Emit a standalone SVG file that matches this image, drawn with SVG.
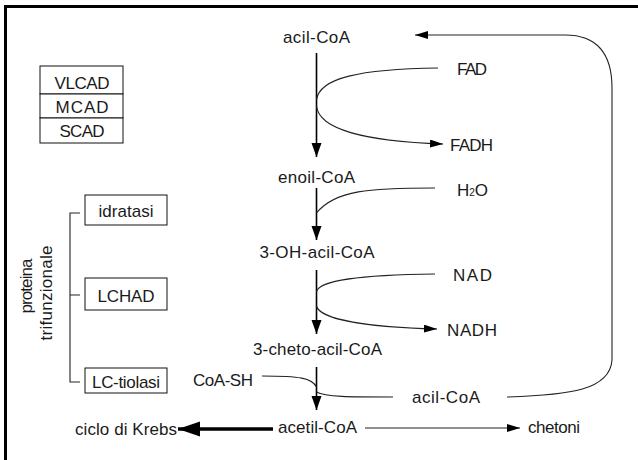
<svg xmlns="http://www.w3.org/2000/svg" width="638" height="460" viewBox="0 0 638 460">
<defs>
<style>
text{font-family:"Liberation Sans",Arial,sans-serif;font-size:17px;fill:#1a1a1a}
.c{text-anchor:middle}
.box{fill:#fff;stroke:#111;stroke-width:1}
.main{fill:none;stroke:#000;stroke-width:1.6}
.thin{fill:none;stroke:#222;stroke-width:1.1}
.thick{fill:none;stroke:#000;stroke-width:3.5}
</style>
<marker id="ah" markerUnits="userSpaceOnUse" markerWidth="16" markerHeight="12" refX="14" refY="5" orient="auto"><path d="M0,0 L14,5 L0,10 z" fill="#000"/></marker>
<marker id="as" markerUnits="userSpaceOnUse" markerWidth="14" markerHeight="10" refX="13" refY="4" orient="auto"><path d="M0,0 L13,4 L0,8 z" fill="#000"/></marker>
<marker id="ab" markerUnits="userSpaceOnUse" markerWidth="24" markerHeight="16" refX="22" refY="7.5" orient="auto"><path d="M0,0 L22,7.5 L0,15 z" fill="#000"/></marker>
</defs>
<rect x="5.5" y="6.5" width="700" height="500" fill="#fff" stroke="#000" stroke-width="3"/>

<g id="connectors">
<path class="main" d="M316.5,53 V157" marker-end="url(#ah)"/>
<path class="main" d="M316.5,188 V240" marker-end="url(#ah)"/>
<path class="main" d="M316.5,270 V334" marker-end="url(#ah)"/>
<path class="main" d="M316.5,367 V410" marker-end="url(#ah)"/>
<path class="thin" d="M438,68 C360,69 319,78 316.5,100"/>
<path class="thin" d="M316.5,106 C319,130 365,141 443,144" marker-end="url(#as)"/>
<path class="thin" d="M435,188 C370,188 335,190 316.5,213"/>
<path class="thin" d="M435,274 C360,275 319,280 316.5,292"/>
<path class="thin" d="M316.5,306 C320,320 370,327 437,329" marker-end="url(#as)"/>
<path class="thin" d="M262,376 C300,376 312,378 316.5,387"/>
<path class="thin" d="M316.5,392 C325,397 350,397 393,397"/>
<path class="thin" d="M507,397 C570,395 610,390 612,360 L612,88 C612,55 598,35 565,35 L415,35" marker-end="url(#as)"/>
<path class="thick" d="M273,429 H178" marker-end="url(#ab)"/>
<path class="thin" d="M365,428 H520" marker-end="url(#as)"/>
<path class="thin" d="M80,213 H70 V382 H80 M70,295 H80"/>
</g>

<g id="acil-CoA-top"><text class="c" x="316.5" y="43" textLength="67" lengthAdjust="spacing">acil-CoA</text></g>
<g id="FAD"><text x="457" y="75" textLength="30" lengthAdjust="spacing">FAD</text></g>
<g id="FADH"><text x="450" y="151" textLength="43" lengthAdjust="spacing">FADH</text></g>
<g id="enoil-CoA"><text class="c" x="316.5" y="183" textLength="77" lengthAdjust="spacing">enoil-CoA</text></g>
<g id="H2O"><text x="457" y="196">H<tspan font-size="10">2</tspan>O</text></g>
<g id="OH-acil-CoA"><text class="c" x="317" y="258" textLength="115" lengthAdjust="spacing">3-OH-acil-CoA</text></g>
<g id="NAD"><text x="453" y="281" textLength="39" lengthAdjust="spacing">NAD</text></g>
<g id="NADH"><text x="447" y="336" textLength="50" lengthAdjust="spacing">NADH</text></g>
<g id="cheto-acil-CoA"><text class="c" x="317.5" y="355" textLength="129" lengthAdjust="spacing">3-cheto-acil-CoA</text></g>
<g id="CoA-SH"><text x="193" y="386" textLength="60" lengthAdjust="spacing">CoA-SH</text></g>
<g id="acil-CoA-bottom"><text x="412" y="403" textLength="68" lengthAdjust="spacing">acil-CoA</text></g>
<g id="ciclo-di-Krebs"><text x="75" y="435" textLength="102" lengthAdjust="spacing">ciclo di Krebs</text></g>
<g id="acetil-CoA"><text x="278" y="433" textLength="79" lengthAdjust="spacing">acetil-CoA</text></g>
<g id="chetoni"><text x="528" y="433" textLength="52" lengthAdjust="spacing">chetoni</text></g>

<g id="VLCAD"><rect class="box" x="40" y="66" width="83" height="28"/><text class="c" x="82" y="89" textLength="55" lengthAdjust="spacing">VLCAD</text></g>
<g id="MCAD"><rect class="box" x="40" y="94" width="83" height="24"/><text class="c" x="82" y="113" textLength="53" lengthAdjust="spacing">MCAD</text></g>
<g id="SCAD"><rect class="box" x="40" y="118" width="83" height="25"/><text class="c" x="82" y="137" textLength="45" lengthAdjust="spacing">SCAD</text></g>

<g id="idratasi"><rect class="box" x="85" y="195" width="82" height="30"/><text class="c" x="126" y="217" textLength="55" lengthAdjust="spacing">idratasi</text></g>
<g id="LCHAD"><rect class="box" x="85" y="278" width="82" height="32"/><text class="c" x="126" y="302" textLength="57" lengthAdjust="spacing">LCHAD</text></g>
<g id="LC-tiolasi"><rect class="box" x="85" y="368" width="82" height="25"/><text class="c" x="126" y="388" textLength="68" lengthAdjust="spacing">LC-tiolasi</text></g>

<g id="proteina-trifunzionale">
<text class="c" transform="translate(32,286) rotate(-90)" textLength="55" lengthAdjust="spacing">proteina</text>
<text class="c" transform="translate(52,293) rotate(-90)" textLength="95" lengthAdjust="spacing">trifunzionale</text>
</g>
</svg>
